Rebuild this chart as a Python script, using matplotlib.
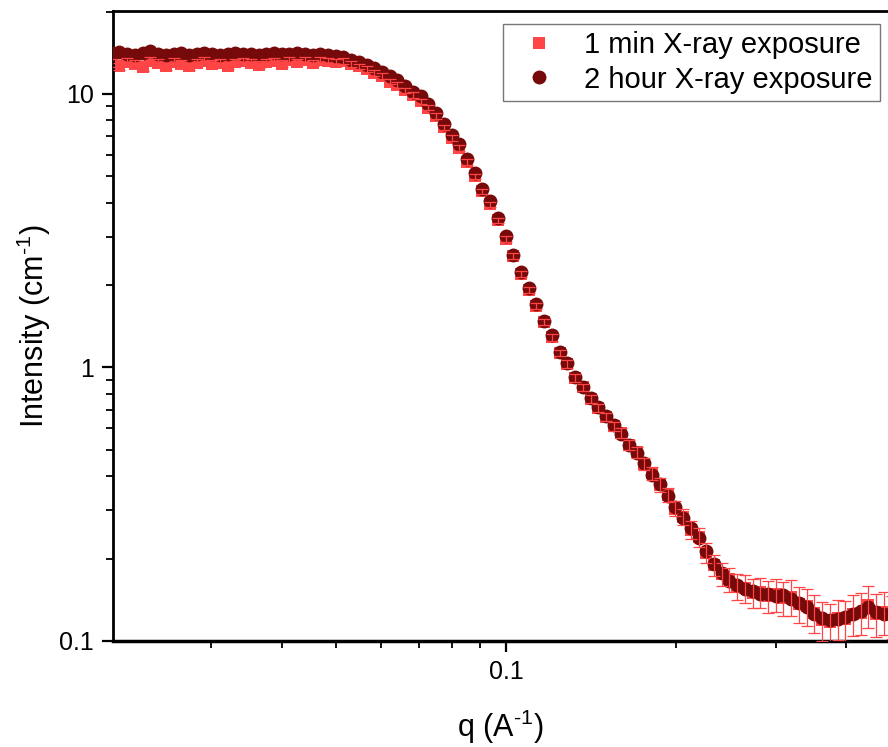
import matplotlib
matplotlib.use("Agg")
import matplotlib.pyplot as plt
from matplotlib import ticker
from matplotlib.lines import Line2D

plt.rcParams['font.family'] = ['Liberation Sans', 'DejaVu Sans']
plt.rcParams['mathtext.fontset'] = 'custom'
plt.rcParams['mathtext.rm'] = 'Liberation Sans'
plt.rcParams['mathtext.it'] = 'Liberation Sans:italic'

# scattering vector q (1/A), log-binned
q = [0.02000, 0.02064, 0.02130, 0.02198, 0.02268, 0.02341, 0.02416, 0.02493, 0.02573, 0.02655,
     0.02740, 0.02828, 0.02919, 0.03012, 0.03108, 0.03208, 0.03311, 0.03417, 0.03526, 0.03639,
     0.03755, 0.03876, 0.04000, 0.04128, 0.04260, 0.04396, 0.04537, 0.04682, 0.04832, 0.04986,
     0.05146, 0.05310, 0.05480, 0.05656, 0.05837, 0.06023, 0.06216, 0.06415, 0.06620, 0.06832,
     0.07051, 0.07277, 0.07509, 0.07750, 0.07998, 0.08254, 0.08518, 0.08790, 0.09072, 0.09362,
     0.09661, 0.09971, 0.1029, 0.1062, 0.1096, 0.1131, 0.1167, 0.1204, 0.1243, 0.1283,
     0.1324, 0.1366, 0.1410, 0.1455, 0.1501, 0.1549, 0.1599, 0.1650, 0.1703, 0.1757,
     0.1814, 0.1872, 0.1932, 0.1994, 0.2057, 0.2123, 0.2191, 0.2261, 0.2334, 0.2408,
     0.2485, 0.2565, 0.2647, 0.2732, 0.2819, 0.2909, 0.3002, 0.3098, 0.3198, 0.3300,
     0.3406, 0.3515, 0.3627, 0.3743, 0.3863, 0.3987, 0.4114, 0.4246, 0.4382, 0.4522,
     0.4667, 0.4816]

# 1 min exposure
i_1min = [13.0, 12.6, 13.1, 12.9, 12.5, 13.2, 13.0, 12.6, 13.1, 12.9,
          12.6, 13.0, 13.2, 12.9, 13.0, 12.7, 13.1, 13.2, 13.0, 12.8,
          13.1, 13.2, 12.9, 13.3, 13.1, 13.3, 13.0, 13.3, 13.2, 13.1,
          13.2, 12.9, 12.6, 12.3, 11.9, 11.6, 11.1, 10.8, 10.3, 9.9,
          9.4, 8.9, 8.3, 7.55, 6.9, 6.35, 5.65, 5.0, 4.4, 3.95,
          3.45, 2.95, 2.55, 2.2, 1.92, 1.68, 1.47, 1.29, 1.13, 1.03,
          0.915, 0.845, 0.77, 0.71, 0.66, 0.61, 0.575, 0.52, 0.49, 0.445,
          0.41, 0.372, 0.343, 0.305, 0.285, 0.255, 0.24, 0.21, 0.19, 0.176,
          0.168, 0.158, 0.156, 0.150, 0.151, 0.146, 0.148, 0.144, 0.145, 0.137,
          0.134, 0.127, 0.119, 0.117, 0.121, 0.120, 0.126, 0.127, 0.135, 0.126,
          0.128, 0.124]

# relative error of the 1 min data (%)
err_1min_pct = [3.2, 3.0, 3.1, 3.0, 3.3, 3.0, 2.9, 3.1, 3.0, 2.9,
                3.0, 2.9, 3.0, 2.8, 2.9, 3.0, 2.8, 2.9, 2.8, 2.9,
                2.8, 2.7, 2.8, 2.7, 2.8, 2.7, 2.6, 2.7, 2.6, 2.6,
                2.5, 2.5, 2.4, 2.5, 2.4, 2.4, 2.3, 2.4, 2.3, 2.3,
                2.3, 2.2, 2.3, 2.2, 2.2, 2.2, 2.3, 2.2, 2.3, 2.3,
                2.4, 2.4, 2.5, 2.5, 2.6, 2.6, 2.7, 2.8, 2.9, 3.0,
                3.1, 3.2, 3.4, 3.5, 3.7, 3.9, 4.1, 4.3, 4.6, 4.9,
                5.2, 5.6, 6.0, 6.4, 6.9, 7.4, 7.9, 8.5, 9.0, 9.6,
                10.2, 10.8, 11.4, 12.0, 12.6, 13.2, 13.8, 14.3, 14.8, 15.2,
                15.6, 16.0, 16.3, 16.6, 16.9, 17.1, 17.3, 17.5, 17.6, 17.8,
                17.9, 18.0]

# 2 hour exposure
i_2h = [14.1, 14.2, 14.0, 13.9, 14.1, 14.3, 14.0, 13.9, 14.0, 14.1,
        13.9, 14.0, 14.1, 14.0, 13.9, 14.0, 14.1, 14.0, 14.0, 13.9,
        14.0, 14.1, 14.0, 14.0, 14.1, 14.0, 13.9, 14.0, 13.9, 13.8,
        13.6, 13.3, 13.05, 12.75, 12.4, 12.0, 11.6, 11.2, 10.7, 10.2,
        9.8, 9.2, 8.55, 7.75, 7.1, 6.55, 5.8, 5.15, 4.5, 4.05,
        3.52, 3.02, 2.58, 2.23, 1.95, 1.70, 1.48, 1.31, 1.14, 1.04,
        0.92, 0.85, 0.775, 0.715, 0.665, 0.615, 0.57, 0.52, 0.485, 0.448,
        0.406, 0.375, 0.34, 0.31, 0.282, 0.258, 0.238, 0.213, 0.192, 0.178,
        0.166, 0.160, 0.155, 0.152, 0.149, 0.148, 0.146, 0.147, 0.143, 0.138,
        0.133, 0.126, 0.121, 0.119, 0.120, 0.122, 0.125, 0.129, 0.133, 0.128,
        0.126, 0.125]

light_red = '#FF4545'
dark_red = '#760909'

err_1min = [v * p / 100.0 for v, p in zip(i_1min, err_1min_pct)]

fig = plt.figure(figsize=(8.88, 7.47), dpi=100)
ax = fig.add_axes([113 / 888, 106 / 747, 775 / 888, 630 / 747])

ax.plot(q, i_1min, 's', color=light_red, markersize=8.5, markeredgewidth=0, zorder=2)
ax.plot(q, i_2h, 'o', color=dark_red, markersize=10, markeredgewidth=0, zorder=3)
ax.errorbar(q, i_1min, yerr=err_1min, fmt='none', ecolor=light_red,
            elinewidth=0.9, capsize=4, capthick=0.9, zorder=4)

ax.set_xscale('log')
ax.set_yscale('log')
ax.set_xlim(0.0201, 0.4745)
ax.set_ylim(0.1, 20.1)

fmt = ticker.FuncFormatter(lambda v, p: '{:g}'.format(v))
ax.xaxis.set_major_formatter(fmt)
ax.yaxis.set_major_formatter(fmt)
ax.xaxis.set_minor_formatter(ticker.NullFormatter())
ax.yaxis.set_minor_formatter(ticker.NullFormatter())

ax.tick_params(which='major', direction='out', length=8, width=1.6,
               labelsize=18, pad=6, top=False, right=False)
ax.tick_params(which='minor', direction='out', length=5, width=1.3,
               top=False, right=False)

ax.spines['right'].set_visible(False)
ax.spines['left'].set_linewidth(2)
ax.spines['bottom'].set_linewidth(2.5)
ax.spines['top'].set_linewidth(2)

ax.set_xlabel('q (A$^{\u20101}$)', fontsize=22, labelpad=17)
ax.set_ylabel('Intensity (cm$^{\u20101}$)', fontsize=22, labelpad=4)

handles = [
    Line2D([], [], linestyle='none', marker='s', color=light_red,
           markersize=9, markeredgewidth=0),
    Line2D([], [], linestyle='none', marker='o', color=dark_red,
           markersize=10, markeredgewidth=0),
]
leg = ax.legend(handles, ['1 min X-ray exposure', '2 hour X-ray exposure'],
                loc='upper right', bbox_to_anchor=(880 / 888, 1 - 24 / 747),
                bbox_transform=fig.transFigure, borderaxespad=0,
                fontsize=21, frameon=True, fancybox=False,
                labelspacing=0.22, handlelength=2.0, handletextpad=0.55,
                borderpad=0.25)
leg.get_frame().set_edgecolor('#555555')
leg.get_frame().set_linewidth(1.0)

fig.savefig('out.png', dpi=100)
